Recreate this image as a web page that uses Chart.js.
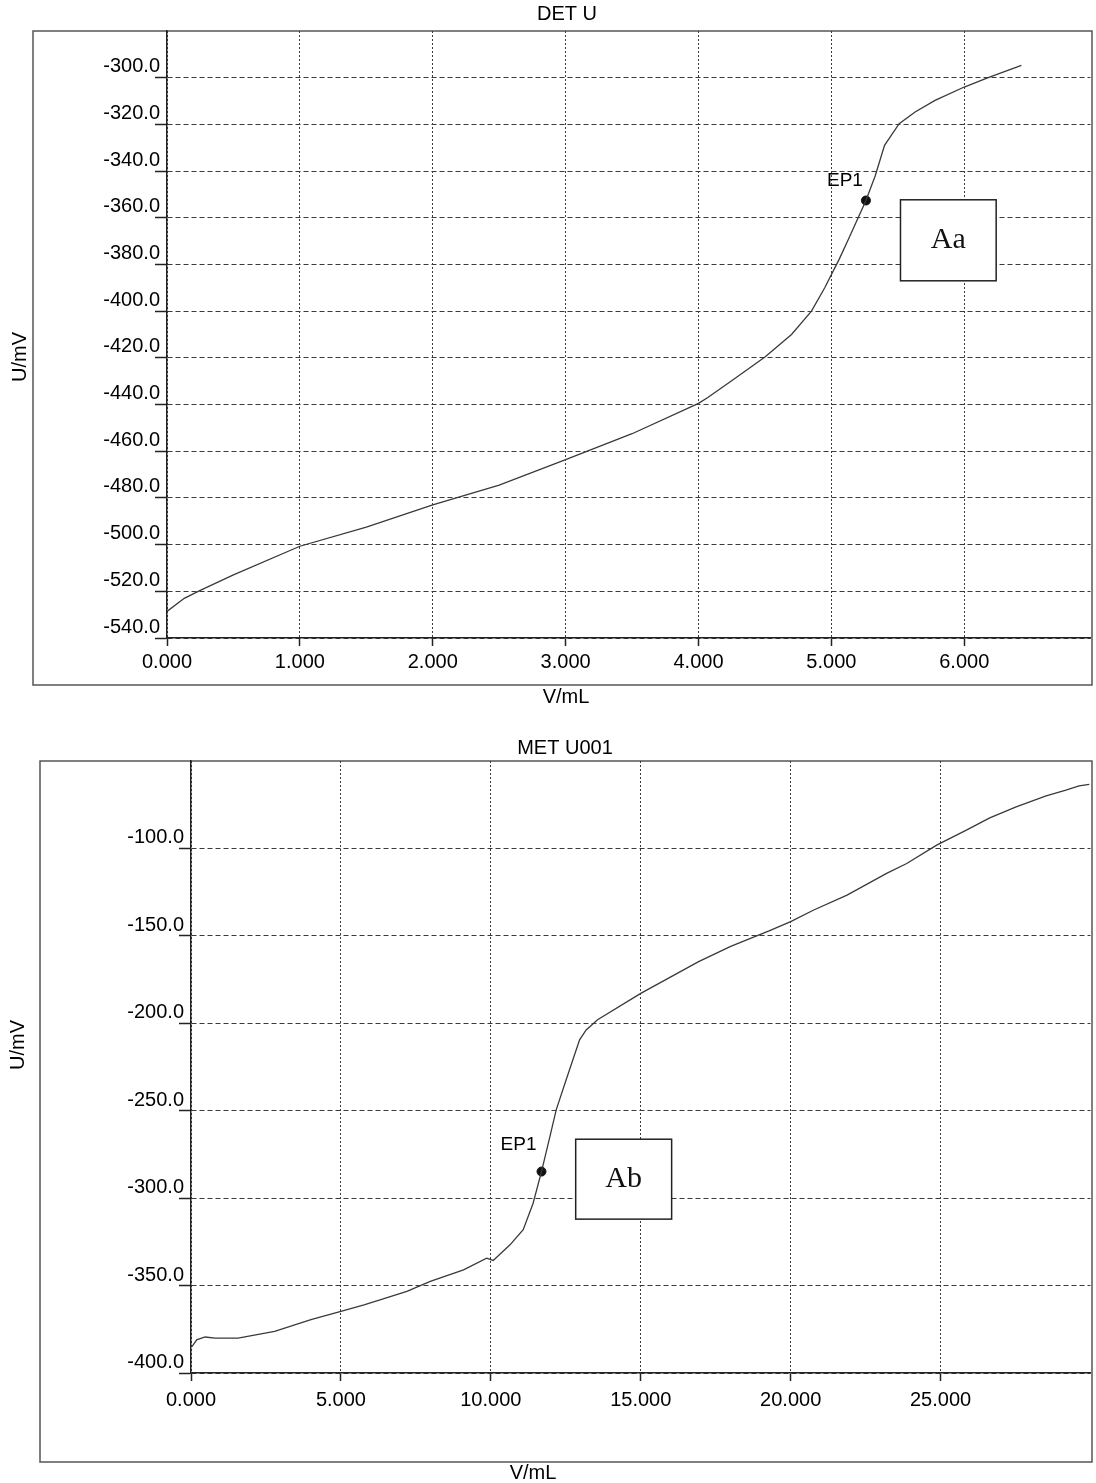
<!DOCTYPE html>
<html>
<head>
<meta charset="utf-8">
<script src="https://cdn.jsdelivr.net/npm/chart.js@4.4.1/dist/chart.umd.min.js"></script>
<style>
  html, body { margin: 0; padding: 0; background: #fff; }
  body { width: 1096px; height: 1483px; position: relative; overflow: hidden; }
  canvas { position: absolute; left: 0; }
</style>
</head>
<body>
<canvas id="detChart" width="1096" height="715" style="top:0"></canvas>
<canvas id="metChart" width="1096" height="768" style="top:715px"></canvas>
<script>
// DET U titration curve (V/mL, U/mV)
const detVolume = [0, 0.13, 0.25, 0.5, 1.0, 1.5, 2.0, 2.5, 3.0, 3.5, 4.0, 4.07, 4.26, 4.5, 4.7, 4.85, 4.95, 5.06, 5.13, 5.26, 5.33, 5.4, 5.51, 5.63, 5.78, 6.0, 6.18, 6.43];
const detPotential = [-528.6, -523, -519.6, -513, -500.7, -492.5, -483, -474.5, -463.6, -452.5, -439.5, -437, -429.4, -419.6, -410, -400, -390, -377.6, -369, -352.6, -342, -329, -319.7, -314.7, -309.7, -304, -300, -294.7];
const detEndpoint = { label: 'EP1', x: 5.26, y: -352.6 };
const detXTicks = [0, 1, 2, 3, 4, 5, 6];
const detYTicks = [-540, -520, -500, -480, -460, -440, -420, -400, -380, -360, -340, -320, -300];

// MET U001 titration curve
const metVolume = [0.02, 0.08, 0.19, 0.47, 0.8, 1.57, 2.79, 4.0, 5.0, 5.77, 6.33, 7.2, 7.98, 9.09, 9.86, 10.08, 10.64, 11.08, 11.41, 11.69, 11.97, 12.18, 12.51, 12.96, 13.18, 13.56, 15.0, 16.93, 18.0, 19.28, 20.0, 20.77, 21.88, 23.2, 23.87, 24.87, 25.86, 26.64, 27.52, 28.52, 29.18, 29.62, 29.96];
const metPotential = [-385, -383.8, -381, -379.4, -380, -380, -376.2, -369.5, -364.8, -361, -358, -353.3, -347.6, -341, -334.3, -335.6, -326.7, -318, -302.9, -284.8, -264.8, -249.5, -232.4, -209.5, -203.8, -198, -182.9, -164.7, -156, -147.2, -141.9, -135.2, -126.7, -114.3, -108.6, -98.1, -89.5, -82.5, -76.2, -69.9, -66.7, -64.2, -63.4];
const metEndpoint = { label: 'EP1', x: 11.69, y: -284.8 };
const metXTicks = [0, 5, 10, 15, 20, 25];
const metYTicks = [-400, -350, -300, -250, -200, -150, -100];

const sansFont = 'Liberation Sans, Arial, sans-serif';

// frame, titles, axis names, endpoint label and the boxed tag
const notesPlugin = {
  id: 'notes',
  beforeDraw(chart, args, o) {
    const ctx = chart.ctx;
    ctx.save();
    ctx.strokeStyle = '#555';
    ctx.lineWidth = 1.5;
    const f = o.frame;
    ctx.strokeRect(f[0], f[1], f[2] - f[0], f[3] - f[1]);
    ctx.restore();
  },
  afterDraw(chart, args, o) {
    const ctx = chart.ctx;
    const xs = chart.scales.x, ys = chart.scales.y;
    ctx.save();
    ctx.fillStyle = '#000';
    ctx.textAlign = 'center';
    ctx.textBaseline = 'middle';
    ctx.font = '20px ' + sansFont;
    ctx.fillText(o.title, o.titlePos[0], o.titlePos[1]);
    ctx.fillText('V/mL', o.xNamePos[0], o.xNamePos[1]);
    ctx.save();
    ctx.translate(o.yNamePos[0], o.yNamePos[1]);
    ctx.rotate(-Math.PI / 2);
    ctx.fillText('U/mV', 0, 0);
    ctx.restore();

    // endpoint label
    const pt = chart.getDatasetMeta(1).data[0];
    ctx.font = '19px ' + sansFont;
    ctx.fillText(o.epText, pt.x + o.epOffset[0], pt.y + o.epOffset[1]);

    // boxed tag
    const b = o.box;
    const x1 = xs.getPixelForValue(b.x0), x2 = xs.getPixelForValue(b.x1);
    const y1 = ys.getPixelForValue(b.y0), y2 = ys.getPixelForValue(b.y1);
    ctx.fillStyle = '#fff';
    ctx.fillRect(x1, y1, x2 - x1, y2 - y1);
    ctx.strokeStyle = '#222';
    ctx.lineWidth = 1.5;
    ctx.strokeRect(x1, y1, x2 - x1, y2 - y1);
    ctx.fillStyle = '#111';
    ctx.font = '30px Liberation Serif, Times New Roman, serif';
    ctx.fillText(b.text, (x1 + x2) / 2, (y1 + y2) / 2);
    ctx.restore();
  }
};

function makeScales(xRange, yRange, xTicks, yTicks, yLabelOffset, xPad) {
  const font = { family: sansFont, size: 20 };
  return {
    x: {
      type: 'linear', min: xRange[0], max: xRange[1],
      afterBuildTicks: a => { a.ticks = xTicks.map(v => ({ value: v })); },
      afterFit: a => { a.height = 45; },
      grid: { color: '#3a3a3a', lineWidth: 1, tickLength: 8, tickColor: '#222', tickWidth: 1.5 },
      border: { display: true, color: '#222', width: 1.5, dash: [2, 2] },
      ticks: { color: '#000', font: font, padding: xPad, maxRotation: 0, autoSkip: false,
               callback: v => Number(v).toFixed(3) }
    },
    y: {
      type: 'linear', min: yRange[0], max: yRange[1],
      afterBuildTicks: a => { a.ticks = yTicks.map(v => ({ value: v })); },
      afterFit: a => { a.width = 70; },
      grid: { color: '#3a3a3a', lineWidth: 1, tickLength: 12, tickColor: '#222', tickWidth: 1.5 },
      border: { display: true, color: '#222', width: 1.5, dash: [5, 3] },
      ticks: { color: '#000', font: font, padding: -5, labelOffset: yLabelOffset, autoSkip: false,
               callback: v => Number(v).toFixed(1) }
    }
  };
}

function makeChart(id, vol, pot, ep, scales, padding, notes) {
  return new Chart(document.getElementById(id), {
    type: 'line',
    data: {
      datasets: [{
        data: vol.map((x, i) => ({ x: x, y: pot[i] })),
        borderColor: '#3a3a3a',
        borderWidth: 1.3,
        pointRadius: 0,
        tension: 0,
        fill: false
      }, {
        data: [{ x: ep.x, y: ep.y }],
        showLine: false,
        pointRadius: 4.5,
        pointBackgroundColor: '#111',
        pointBorderColor: '#111'
      }]
    },
    options: {
      responsive: false,
      animation: false,
      layout: { padding: padding },
      plugins: { legend: { display: false }, tooltip: { enabled: false }, notes: notes },
      scales: scales
    },
    plugins: [notesPlugin]
  });
}

makeChart('detChart', detVolume, detPotential, detEndpoint,
  makeScales([0, 6.95], [-540, -280], detXTicks, detYTicks, -11, 4),
  { left: 97, top: 31, right: 4, bottom: 32 },
  {
    frame: [33, 31, 1092, 685],
    title: 'DET U', titlePos: [567, 14],
    xNamePos: [566, 697], yNamePos: [20, 357],
    epText: detEndpoint.label, epOffset: [-21, -20],
    box: { text: 'Aa', x0: 5.52, x1: 6.24, y0: -352.3, y1: -387 }
  });

makeChart('metChart', metVolume, metPotential, metEndpoint,
  makeScales([0, 30], [-400, -50], metXTicks, metYTicks, -10.5, 7),
  { left: 121, top: 46, right: 4, bottom: 65 },
  {
    frame: [40, 46, 1092, 747],
    title: 'MET U001', titlePos: [565, 33],
    xNamePos: [533, 758], yNamePos: [18, 330],
    epText: metEndpoint.label, epOffset: [-23, -27],
    box: { text: 'Ab', x0: 12.83, x1: 16.03, y0: -266.3, y1: -312 }
  });
</script>
</body>
</html>
